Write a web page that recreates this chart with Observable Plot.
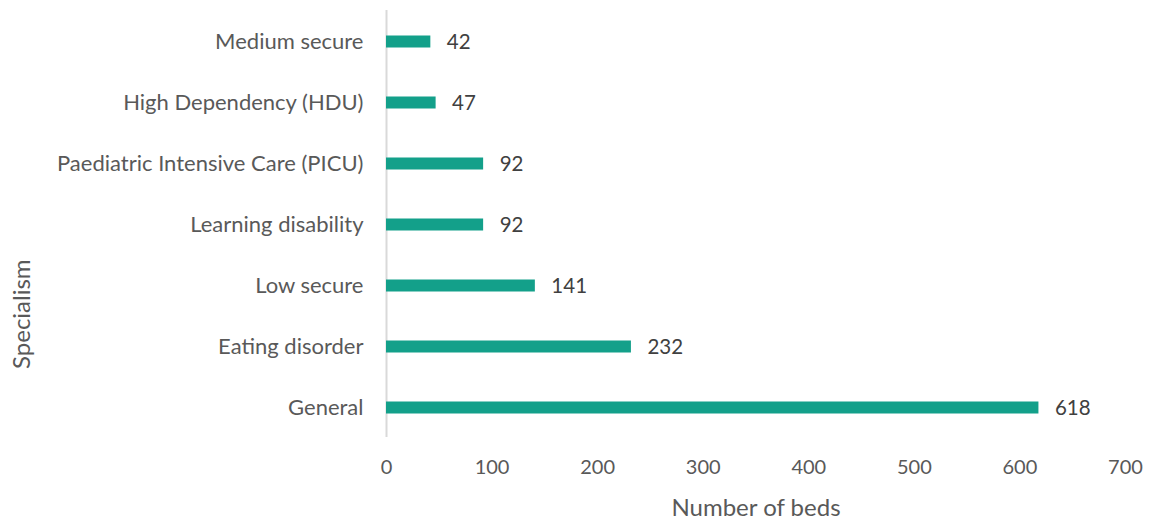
<!DOCTYPE html>
<html><head><meta charset="utf-8">
<script src="https://cdn.jsdelivr.net/npm/d3@7"></script>
<script src="https://cdn.jsdelivr.net/npm/@observablehq/plot@0.6"></script>
<style>body{margin:0;background:#fff;} svg{display:block;}</style>
</head><body><div id="chart"></div>
<script>
const categories = ["Medium secure","High Dependency (HDU)","Paediatric Intensive Care (PICU)","Learning disability","Low secure","Eating disorder","General"];
const beds = [42,47,92,92,141,232,618];
const xTicks = [0,100,200,300,400,500,600,700];
const xLabel = "Number of beds";
const yLabel = "Specialism";
const data = categories.map((c,i)=>({c, v: beds[i]}));
const font = "Lato, 'Open Sans', sans-serif";
const chart = Plot.plot({
  width: 1152, height: 520,
  marginLeft: 386, marginRight: 27, marginTop: 10, marginBottom: 83,
  style: {fontFamily: font, fontSize: "19px", background: "#fff"},
  x: {domain: [0,700], ticks: xTicks},
  y: {type: "point", domain: categories, padding: 0.5},
  marks: [
    Plot.ruleX([0], {stroke: "#d9d9d9", strokeWidth: 2}),
    Plot.ruleY(data, {y: "c", x1: 0, x2: "v", stroke: "#13a08a", strokeWidth: 12}),
    Plot.text(data, {y: "c", x: "v", text: d => String(d.v), dx: 16, dy: 1, textAnchor: "start", fill: "#404040", fontSize: 20.5}),
    Plot.axisX({ticks: xTicks, tickSize: 0, tickPadding: 22, fontSize: 20, color: "#595959", label: null}),
    Plot.axisY({tickSize: 0, tickPadding: 23, fontSize: 22, color: "#595959", label: null}),
    Plot.text([xLabel], {frameAnchor: "bottom", dy: 78, fontSize: 24, fill: "#595959", text: d => d}),
    Plot.text([yLabel], {frameAnchor: "left", dx: -364, dy: 145, rotate: -90, fontSize: 24, fill: "#595959", text: d => d})
  ]
});
document.getElementById("chart").appendChild(chart);
</script></body></html>
